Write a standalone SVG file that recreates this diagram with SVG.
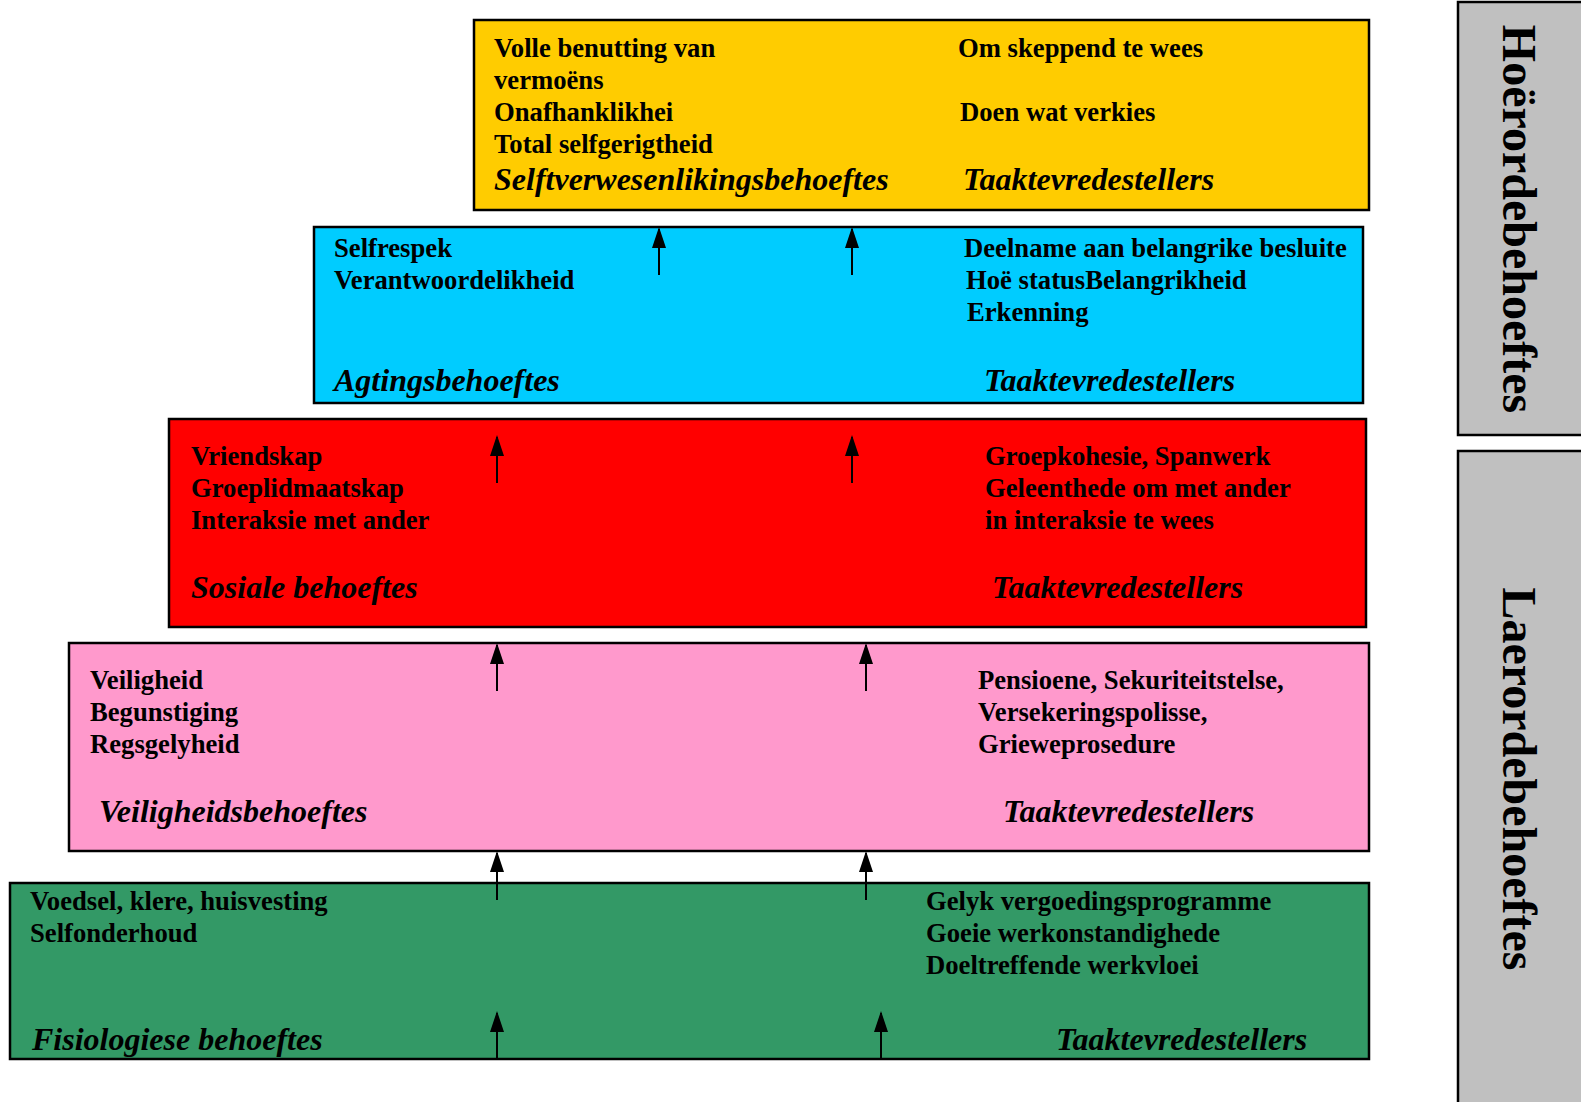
<svg xmlns="http://www.w3.org/2000/svg" width="1581" height="1102" viewBox="0 0 1581 1102">
<style>
.box{stroke:#000;stroke-width:2.5}
.t{font-family:"Liberation Serif","Times New Roman",serif;font-weight:bold;font-size:26.67px;fill:#000}
.i{font-family:"Liberation Serif","Times New Roman",serif;font-weight:bold;font-style:italic;font-size:32px;fill:#000}
.v{font-family:"Liberation Serif","Times New Roman",serif;font-weight:bold;font-size:48px;fill:#000}
.arr{stroke:#000;stroke-width:2;fill:none;marker-end:url(#ah)}
</style>
<defs>
<marker id="ah" markerUnits="userSpaceOnUse" markerWidth="22" markerHeight="16" viewBox="0 0 22 16" refX="19" refY="8" orient="auto">
<path d="M0,1 L21,8 L0,15 z" fill="#000"/>
</marker>
</defs>
<rect width="1581" height="1102" fill="#fff"/>

<g id="side-hoer">
<rect class="box" x="1458" y="2" width="140" height="433" fill="#C0C0C0"/>
<text class="v" transform="translate(1503,219) rotate(90)" text-anchor="middle">Hoërordebehoeftes</text>
</g>
<g id="side-laer">
<rect class="box" x="1458" y="451" width="140" height="670" fill="#C0C0C0"/>
<text class="v" transform="translate(1503,779) rotate(90)" text-anchor="middle">Laerordebehoeftes</text>
</g>

<g id="selftverwesenliking">
<rect class="box" x="474" y="20" width="895" height="190" fill="#FFCC00"/>
<text class="t" x="494" y="57">Volle benutting van</text>
<text class="t" x="494" y="89">vermoëns</text>
<text class="t" x="494" y="121">Onafhanklikhei</text>
<text class="t" x="494" y="153">Total selfgerigtheid</text>
<text class="i" x="494" y="190">Selftverwesenlikingsbehoeftes</text>
<text class="t" x="958" y="57">Om skeppend te wees</text>
<text class="t" x="960" y="121">Doen wat verkies</text>
<text class="i" x="963" y="190">Taaktevredestellers</text>
</g>

<g id="agting">
<rect class="box" x="314" y="227" width="1049" height="176" fill="#00CCFF"/>
<text class="t" x="334" y="257">Selfrespek</text>
<text class="t" x="334" y="289">Verantwoordelikheid</text>
<text class="i" x="334" y="391">Agtingsbehoeftes</text>
<text class="t" x="964" y="257">Deelname aan belangrike besluite</text>
<text class="t" x="966" y="289">Hoë statusBelangrikheid</text>
<text class="t" x="967" y="321">Erkenning</text>
<text class="i" x="984" y="391">Taaktevredestellers</text>
</g>

<g id="sosiaal">
<rect class="box" x="169" y="419" width="1197" height="208" fill="#FF0000"/>
<text class="t" x="191" y="465">Vriendskap</text>
<text class="t" x="191" y="497">Groeplidmaatskap</text>
<text class="t" x="191" y="529">Interaksie met ander</text>
<text class="i" x="191" y="598">Sosiale behoeftes</text>
<text class="t" x="985" y="465">Groepkohesie, Spanwerk</text>
<text class="t" x="985" y="497">Geleenthede om met ander</text>
<text class="t" x="985" y="529">in interaksie te wees</text>
<text class="i" x="992" y="598">Taaktevredestellers</text>
</g>

<g id="veiligheid">
<rect class="box" x="69" y="643" width="1300" height="208" fill="#FF99CC"/>
<text class="t" x="90" y="689">Veiligheid</text>
<text class="t" x="90" y="721">Begunstiging</text>
<text class="t" x="90" y="753">Regsgelyheid</text>
<text class="i" x="99" y="822">Veiligheidsbehoeftes</text>
<text class="t" x="978" y="689">Pensioene, Sekuriteitstelse,</text>
<text class="t" x="978" y="721">Versekeringspolisse,</text>
<text class="t" x="978" y="753">Grieweprosedure</text>
<text class="i" x="1003" y="822">Taaktevredestellers</text>
</g>

<g id="fisiologies">
<rect class="box" x="10" y="883" width="1359" height="176" fill="#339966"/>
<text class="t" x="30" y="910">Voedsel, klere, huisvesting</text>
<text class="t" x="30" y="942">Selfonderhoud</text>
<text class="i" x="32" y="1050">Fisiologiese behoeftes</text>
<text class="t" x="926" y="910">Gelyk vergoedingsprogramme</text>
<text class="t" x="926" y="942">Goeie werkonstandighede</text>
<text class="t" x="926" y="974">Doeltreffende werkvloei</text>
<text class="i" x="1056" y="1050">Taaktevredestellers</text>
</g>

<g id="connectors">
<line class="arr" x1="659" y1="275" x2="659" y2="229"/>
<line class="arr" x1="852" y1="275" x2="852" y2="229"/>
<line class="arr" x1="497" y1="483" x2="497" y2="437"/>
<line class="arr" x1="852" y1="483" x2="852" y2="437"/>
<line class="arr" x1="497" y1="691" x2="497" y2="645"/>
<line class="arr" x1="866" y1="691" x2="866" y2="645"/>
<line class="arr" x1="497" y1="900" x2="497" y2="853"/>
<line class="arr" x1="866" y1="900" x2="866" y2="853"/>
<line class="arr" x1="497" y1="1059" x2="497" y2="1013"/>
<line class="arr" x1="881" y1="1059" x2="881" y2="1013"/>
</g>
</svg>
